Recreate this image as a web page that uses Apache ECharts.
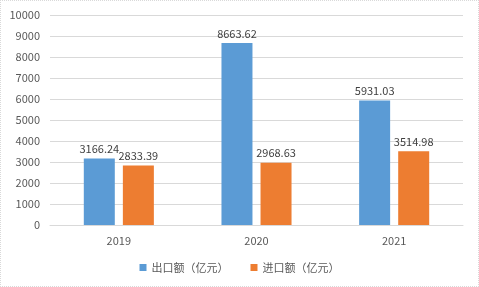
<!DOCTYPE html>
<html><head><meta charset="utf-8">
<script src="https://cdn.jsdelivr.net/npm/echarts@6/dist/echarts.min.js"></script>
<style>html,body{margin:0;padding:0;background:#fff}#c{width:479px;height:287px;box-sizing:border-box;border:1px dotted #d9d9d9}</style>
</head><body><div id="c"></div>
<script>
const categories = ['2019', '2020', '2021'];
const exportValues = [3166.24, 8663.62, 5931.03];
const importValues = [2833.39, 2968.63, 3514.98];
const seriesNames = ['出口额（亿元）', '进口额（亿元）'];
const yTicks = {min: 0, max: 10000, interval: 1000};

const chart = echarts.init(document.getElementById('c'));
const font = '"Noto Sans CJK SC", "Noto Sans", sans-serif';
const lbl = {show: true, position: 'top', color: '#404040', fontSize: 11, fontFamily: font, distance: 4};
chart.setOption({
  animation: false,
  textStyle: {fontFamily: font},
  grid: {left: 49, right: 15, top: 14, bottom: 61},
  legend: {bottom: 8, left: 'center', itemWidth: 7, itemHeight: 7, itemGap: 22, icon: 'rect',
    textStyle: {color: '#595959', fontSize: 11, fontFamily: font},
    data: seriesNames},
  xAxis: {type: 'category', data: categories,
    axisLine: {lineStyle: {color: '#d9d9d9'}}, axisTick: {show: false},
    axisLabel: {color: '#595959', fontSize: 11, margin: 10}},
  yAxis: {type: 'value', min: yTicks.min, max: yTicks.max, interval: yTicks.interval,
    axisLine: {show: false}, axisTick: {show: false},
    splitLine: {lineStyle: {color: '#d9d9d9'}},
    axisLabel: {color: '#595959', fontSize: 11, margin: 10, formatter: v => String(v)}},
  series: [
    {name: seriesNames[0], type: 'bar', data: exportValues, barWidth: 31, barGap: '26%',
     itemStyle: {color: '#5B9BD5'}, label: lbl},
    {name: seriesNames[1], type: 'bar', data: importValues, barWidth: 31,
     itemStyle: {color: '#ED7D31'}, label: lbl}
  ]
});
</script></body></html>
